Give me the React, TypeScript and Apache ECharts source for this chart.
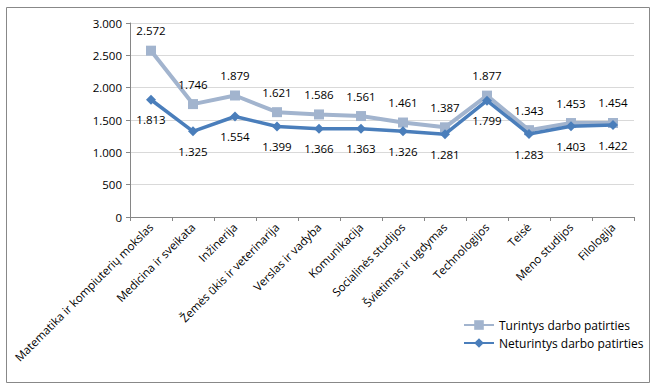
import React, { useEffect, useRef } from "react";
import * as echarts from "echarts";

const categories = [
  "Matematika ir kompiuterių mokslas",
  "Medicina ir sveikata",
  "Inžinerija",
  "Žemės ūkis ir veterinarija",
  "Verslas ir vadyba",
  "Komunikacija",
  "Socialinės studijos",
  "Švietimas ir ugdymas",
  "Technologijos",
  "Teisė",
  "Meno studijos",
  "Filologija",
];
const turintys = [2572, 1746, 1879, 1621, 1586, 1561, 1461, 1387, 1877, 1343, 1453, 1454];
const neturintys = [1813, 1325, 1554, 1399, 1366, 1363, 1326, 1281, 1799, 1283, 1403, 1422];
const seriesNames = ["Turintys darbo patirties", "Neturintys darbo patirties"];

const fmt = (v: number) => String(v).replace(/\B(?=(\d{3})+(?!\d))/g, ".");
const FONT = "Open Sans";

export default function App() {
  const ref = useRef<HTMLDivElement>(null);
  useEffect(() => {
    document.body.style.margin = "0";
    const chart = echarts.init(ref.current!, null, { renderer: "svg" });
    chart.setOption({
      animation: false,
      backgroundColor: "#fff",
      textStyle: { fontFamily: FONT },
      graphic: [
        {
          type: "rect",
          shape: { x: 6.5, y: 7.5, width: 643, height: 375 },
          style: { fill: "none", stroke: "#888", lineWidth: 1 },
          silent: true,
        },
      ],
      grid: { left: 130, right: 23, top: 23, bottom: 172 },
      legend: {
        orient: "vertical",
        left: 458,
        top: 314,
        itemWidth: 30,
        itemHeight: 12,
        itemGap: 6,
        textStyle: { fontFamily: FONT, fontSize: 12, color: "#000" },
        data: seriesNames,
      },
      xAxis: {
        type: "category",
        data: categories,
        boundaryGap: true,
        axisLine: { lineStyle: { color: "#868686" } },
        axisTick: { show: true, length: 4, lineStyle: { color: "#868686" } },
        axisLabel: {
          interval: 0,
          rotate: 45,
          margin: 8,
          fontFamily: FONT,
          fontSize: 11.5,
          color: "#000",
        },
      },
      yAxis: {
        type: "value",
        min: 0,
        max: 3000,
        interval: 500,
        axisLine: { show: true, lineStyle: { color: "#868686" } },
        axisTick: { show: true, length: 4, lineStyle: { color: "#868686" } },
        splitLine: { lineStyle: { color: "#D9D9D9" } },
        axisLabel: {
          formatter: (v: number) => fmt(v),
          fontFamily: FONT,
          fontSize: 11.5,
          color: "#000",
          margin: 8,
        },
      },
      series: [
        {
          name: seriesNames[0],
          type: "line",
          data: turintys,
          symbol: "rect",
          symbolSize: 10,
          itemStyle: { color: "#A2B4CE" },
          lineStyle: { color: "#A2B4CE", width: 4 },
          label: {
            show: true,
            position: "top",
            distance: 9,
            formatter: (p: any) => fmt(p.value),
            fontFamily: FONT,
            fontSize: 11.5,
            color: "#000",
          },
          z: 2,
        },
        {
          name: seriesNames[1],
          type: "line",
          data: neturintys,
          symbol: "diamond",
          symbolSize: 10,
          itemStyle: { color: "#4A7EBB" },
          lineStyle: { color: "#4A7EBB", width: 3.5 },
          label: {
            show: true,
            position: "bottom",
            distance: 9,
            formatter: (p: any) => fmt(p.value),
            fontFamily: FONT,
            fontSize: 11.5,
            color: "#000",
          },
          z: 3,
        },
      ],
    });
    return () => chart.dispose();
  }, []);
  return <div ref={ref} style={{ width: 657, height: 389 }} />;
}
